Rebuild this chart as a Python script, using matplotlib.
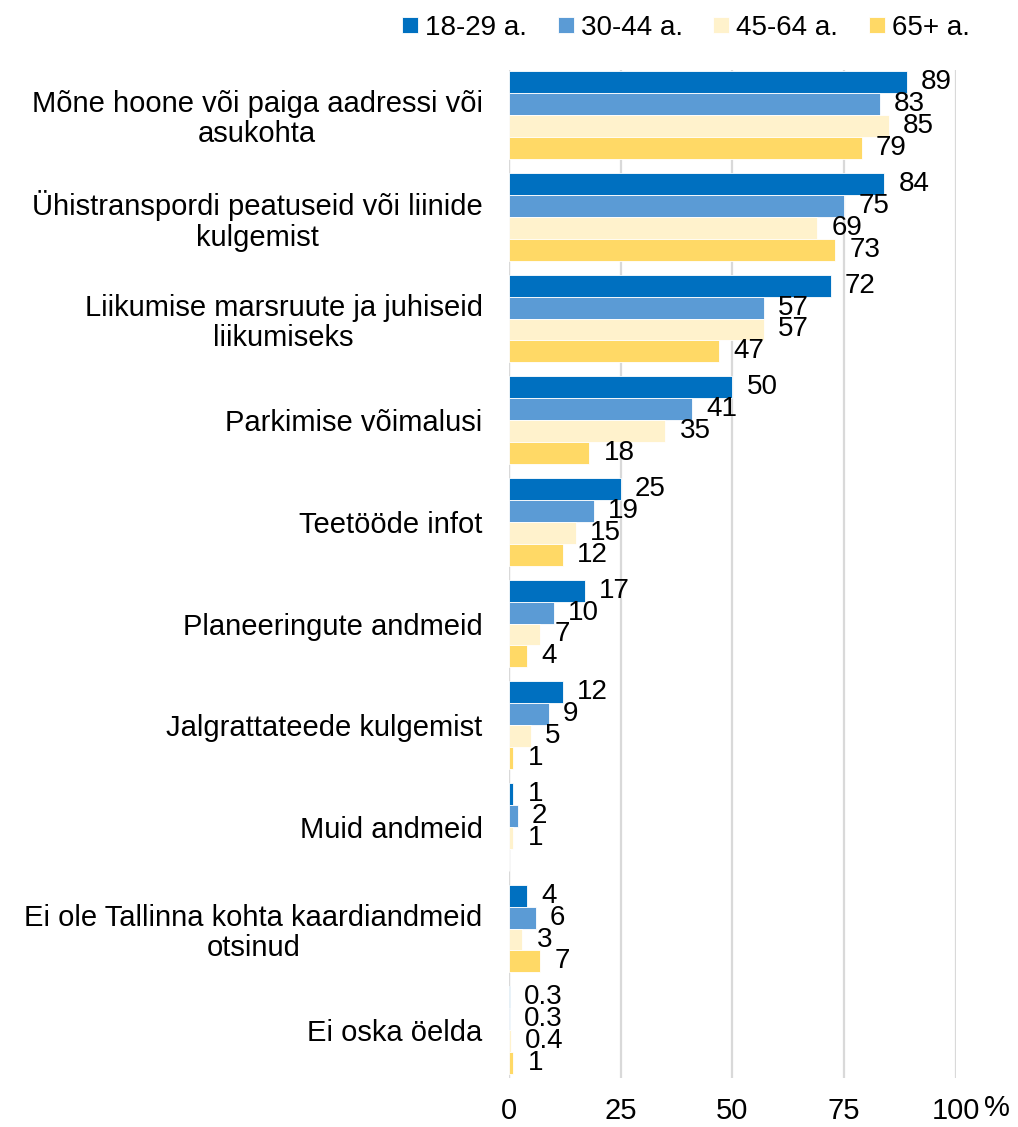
import numpy as np
import matplotlib.pyplot as plt

plt.rcParams['font.family'] = ['Liberation Sans', 'DejaVu Sans']

categories = [
    "Mõne hoone või paiga aadressi või\nasukohta",
    "Ühistranspordi peatuseid või liinide\nkulgemist",
    "Liikumise marsruute ja juhiseid\nliikumiseks",
    "Parkimise võimalusi",
    "Teetööde infot",
    "Planeeringute andmeid",
    "Jalgrattateede kulgemist",
    "Muid andmeid",
    "Ei ole Tallinna kohta kaardiandmeid\notsinud",
    "Ei oska öelda",
]
series_names = ["18-29 a.", "30-44 a.", "45-64 a.", "65+ a."]
age_18_29 = [89, 84, 72, 50, 25, 17, 12, 1, 4, 0.3]
age_30_44 = [83, 75, 57, 41, 19, 10, 9, 2, 6, 0.3]
age_45_64 = [85, 69, 57, 35, 15, 7, 5, 1, 3, 0.4]
age_65 = [79, 73, 47, 18, 12, 4, 1, 0, 7, 1]
colors = ["#0070C0", "#5B9BD5", "#FFF2CC", "#FFD966"]
xticks = [0, 25, 50, 75, 100]

series = [age_18_29, age_30_44, age_45_64, age_65]

fig = plt.figure(figsize=(10.18, 11.27), dpi=100)
ax = fig.add_axes([0.5, 0.0435, 0.439, 0.894])

y = np.arange(len(categories))
h = 0.216
for k, (vals, col, name) in enumerate(zip(series, colors, series_names)):
    pos = y + (k - 1.5) * h
    bars = ax.barh(pos, vals, height=h, color=col, edgecolor='white',
                   linewidth=0.6, label=name, zorder=3)
    for b, v in zip(bars, vals):
        if v == 0:
            continue
        ax.annotate(f"{v:g}", (b.get_width(), b.get_y() + b.get_height() / 2),
                    xytext=(14, 0), textcoords='offset pixels',
                    ha='left', va='center', fontsize=20, color='black', zorder=4)

ax.set_xlim(0, 100)
ax.set_ylim(9.47, -0.44)
ax.set_yticks(y)
ax.set_yticklabels(categories, fontsize=21, ha='right', multialignment='center',
                   linespacing=1.1)
ax.set_xticks(xticks)
ax.set_xticklabels([str(t) for t in xticks], fontsize=21)
ax.tick_params(axis='y', length=0, pad=19)
ax.tick_params(axis='x', length=0, pad=14)
ax.text(1.092, -0.0155, "%", transform=ax.transAxes, fontsize=21,
        ha='center', va='top')

for s in ax.spines.values():
    s.set_visible(False)
ax.grid(axis='x', color='#D9D9D9', linewidth=1.6, zorder=0)
ax.axvline(0, color='#D9D9D9', linewidth=1.6, zorder=2)

fig.legend(loc='upper right', bbox_to_anchor=(0.977, 1.009), ncol=4,
           frameon=False, fontsize=20,
           handlelength=0.58, handleheight=0.55,
           handletextpad=0.25, columnspacing=1.1)

fig.savefig("out.png", dpi=100)
